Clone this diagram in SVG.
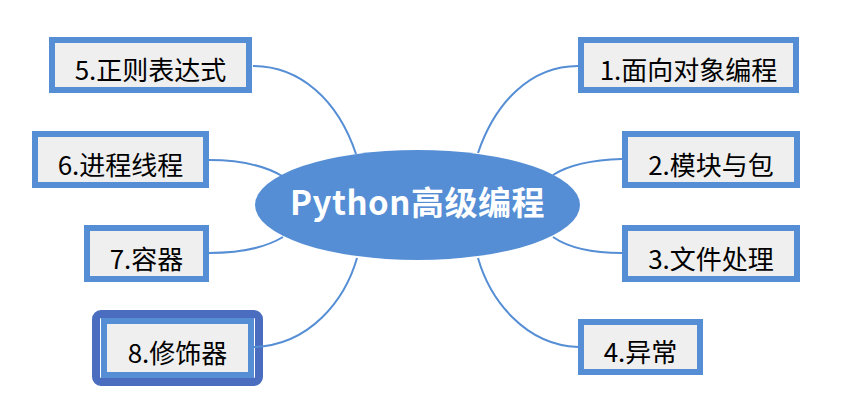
<svg xmlns="http://www.w3.org/2000/svg" width="863" height="412" viewBox="0 0 863 412">
<style>
.box{fill:#EFEFEF;stroke:#558ED5;stroke-width:6}
.lbl{font-family:"Noto Sans CJK SC","Microsoft YaHei",sans-serif;font-size:26px;fill:#000;text-anchor:middle}
.conn{fill:none;stroke:#558ED5;stroke-width:2}
</style>
<rect width="863" height="412" fill="#FFFFFF"/>
<g id="root">
<ellipse cx="417.5" cy="205" rx="162.5" ry="55" fill="#558ED5"/>
<text x="417.5" y="215" style="font-family:'Noto Sans CJK SC','Microsoft YaHei',sans-serif;font-size:33px;font-weight:bold;fill:#FFFFFF;text-anchor:middle;letter-spacing:0.5px">Python高级编程</text>
</g>
<g id="n5"><rect class="box" x="52" y="40" width="197" height="50"/><text class="lbl" x="150.5" y="80">5.正则表达式</text></g>
<g id="n6"><rect class="box" x="35" y="134" width="171" height="51"/><text class="lbl" x="120.5" y="174.5">6.进程线程</text></g>
<g id="n7"><rect class="box" x="87" y="228" width="119" height="51"/><text class="lbl" x="146.5" y="268.5">7.容器</text></g>
<g id="n8">
<rect x="96" y="314" width="163" height="68" rx="5" fill="#FFFFFF" stroke="#4A6DBF" stroke-width="8"/>
<rect class="box" x="104" y="321" width="147" height="54"/>
<text class="lbl" x="177.5" y="363">8.修饰器</text>
</g>
<g id="n1"><rect class="box" x="581" y="40" width="215" height="50"/><text class="lbl" x="688.5" y="80">1.面向对象编程</text></g>
<g id="n2"><rect class="box" x="625" y="134" width="172" height="51"/><text class="lbl" x="711" y="174.5">2.模块与包</text></g>
<g id="n3"><rect class="box" x="625" y="228" width="172" height="51"/><text class="lbl" x="711" y="268.5">3.文件处理</text></g>
<g id="n4"><rect class="box" x="581" y="322" width="119" height="50"/><text class="lbl" x="640.5" y="362">4.异常</text></g>
<g id="connectors">
<path class="conn" d="M253,66 C300,66 338,100 356,154"/>
<path class="conn" d="M578,66 C530,66 495,103 478,153"/>
<path class="conn" d="M209,160 C243,160 265,166 282,176"/>
<path class="conn" d="M622,159 C587,160 567,166 553,175"/>
<path class="conn" d="M209,253 C245,253 268,246 283,237"/>
<path class="conn" d="M622,253 C586,253 566,246 553,237"/>
<path class="conn" d="M254,347 C310,345 345,300 357,258"/>
<path class="conn" d="M578,347 C525,345 490,300 478,258"/>
</g>
</svg>
